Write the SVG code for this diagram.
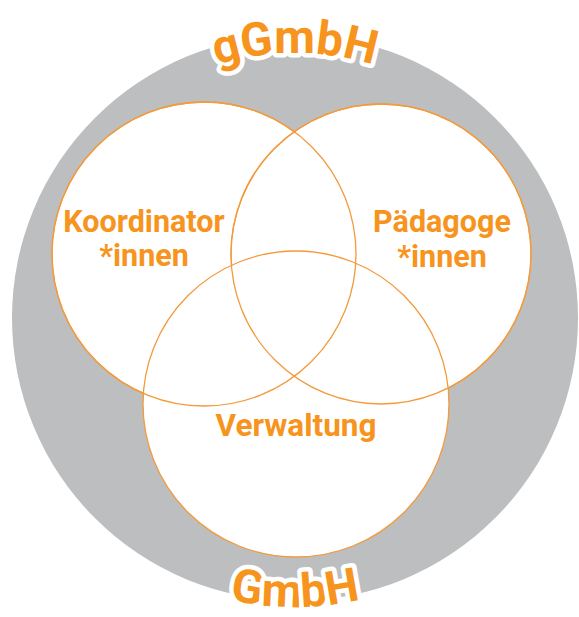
<svg xmlns="http://www.w3.org/2000/svg" width="579" height="617" viewBox="0 0 579 617">
<style>
.set{fill:#ffffff;stroke:#f39a3c;stroke-width:1.3}
.lbl{font-family:Roboto,"Liberation Sans",sans-serif;font-weight:bold;font-size:30.5px;fill:#f7941d;text-anchor:middle}
.arc{font-family:Roboto,"Liberation Sans",sans-serif;font-weight:bold;font-size:47px;fill:#f7941d;stroke:#ffffff;stroke-width:9;stroke-linejoin:round;paint-order:stroke;text-anchor:middle}
</style>
<defs>
<path id="topArc" d="M 30 318 A 265 265 0 0 1 560 318"/>
<path id="botArc" d="M 6 318 A 289 289 0 0 0 584 318"/>
</defs>
<g id="outer">
<circle cx="295" cy="318" r="283" fill="#bcbec0"/>
</g>
<g id="koordinator">
<circle class="set" cx="204" cy="254" r="152"/>
</g>
<g id="paedagoge">
<circle class="set" cx="381" cy="254" r="150"/>
</g>
<g id="verwaltung">
<circle class="set" cx="296" cy="404" r="153"/>
</g>
<g id="outlines" fill="none" stroke="#f39a3c" stroke-width="1.3">
<circle cx="204" cy="254" r="152"/>
<circle cx="381" cy="254" r="150"/>
</g>
<g id="labels">
<text class="lbl" x="144" y="232">Koordinator</text>
<text class="lbl" x="144" y="266">*innen</text>
<text class="lbl" x="442" y="232">Pädagoge</text>
<text class="lbl" x="442" y="267">*innen</text>
<text class="lbl" x="296" y="436" style="font-size:31.5px">Verwaltung</text>
</g>
<g id="gGmbH">
<text class="arc"><textPath href="#topArc" startOffset="50%">gGmbH</textPath></text>
</g>
<g id="GmbH">
<text class="arc"><textPath href="#botArc" startOffset="50%">GmbH</textPath></text>
</g>
</svg>
